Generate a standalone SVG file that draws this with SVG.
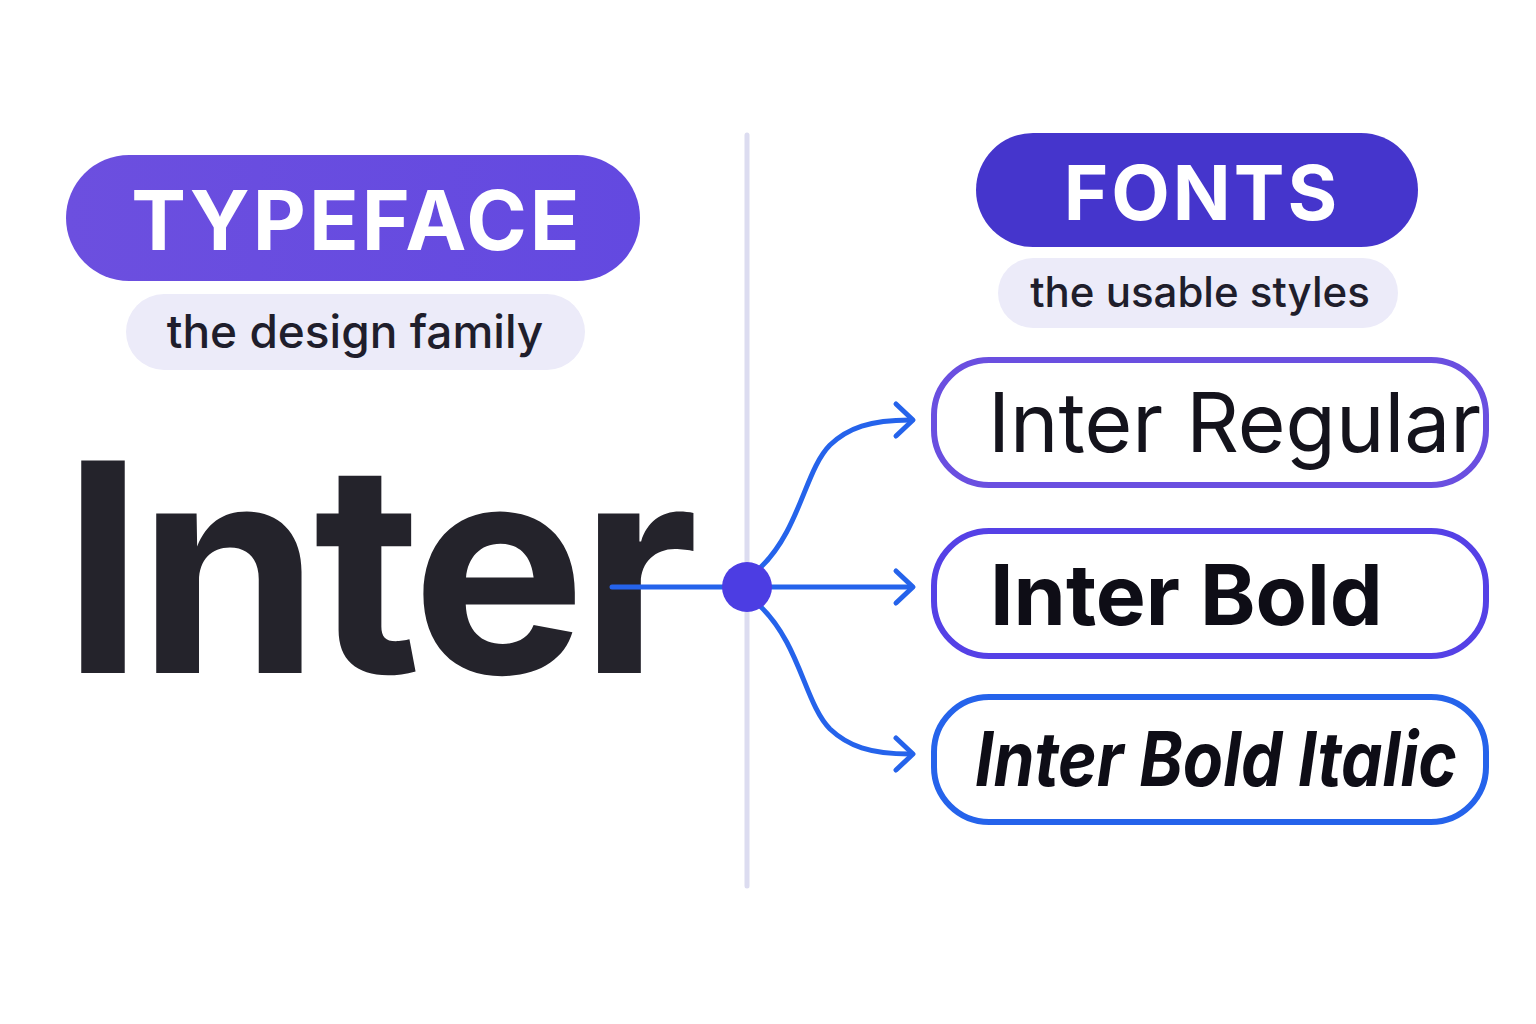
<svg xmlns="http://www.w3.org/2000/svg" width="1536" height="1024" viewBox="0 0 1536 1024">
<defs>
<style>
.t{font-family:Inter,"Liberation Sans",sans-serif}
.pillT{fill:#fff;font-weight:700;text-anchor:middle}
.sub{fill:#1f1e2c;font-weight:500;text-anchor:middle}
.box{fill:#fff;stroke-width:6}
.con{fill:none;stroke:#2563eb;stroke-width:5;stroke-linecap:round;stroke-linejoin:round}
</style>
<linearGradient id="g1" x1="0" x2="1"><stop offset="0" stop-color="#6c4fdf"/><stop offset="1" stop-color="#6349e0"/></linearGradient>
</defs>
<rect width="1536" height="1024" fill="#fff"/>
<line x1="747" y1="135" x2="747" y2="886" stroke="#dcdcf0" stroke-width="5" stroke-linecap="round"/>
<g id="typeface">
<rect x="66" y="155" width="574" height="126" rx="63" fill="url(#g1)"/>
<text class="t pillT" x="357" y="250" font-size="82" letter-spacing="3">TYPEFACE</text>
</g>
<g id="typeface-sub">
<rect x="126" y="294" width="459" height="76" rx="38" fill="#ecebf9"/>
<text class="t sub" x="355" y="348" font-size="46">the design family</text>
</g>
<g id="inter">
<text class="t" x="62" y="673" font-size="292" font-weight="700" fill="#24232b" letter-spacing="-6">Inter</text>
</g>
<g id="connectors">
<line class="con" x1="612" y1="587" x2="910" y2="587"/>
<path class="con" d="M760 568 C800 530 805 470 830 445 C848 428 870 420 910 420"/>
<path class="con" d="M760 606 C800 644 805 704 830 729 C848 746 870 754 910 754"/>
<path class="con" d="M896 404 L913 420 L896 436"/>
<path class="con" d="M896 571 L913 587 L896 603"/>
<path class="con" d="M896 738 L913 754 L896 770"/>
<circle cx="747" cy="587" r="25" fill="#4c3de3"/>
</g>
<g id="fonts">
<rect x="976" y="133" width="442" height="114" rx="57" fill="#4535cc"/>
<text class="t pillT" x="1202" y="220" font-size="76" letter-spacing="3">FONTS</text>
</g>
<g id="fonts-sub">
<rect x="998" y="258" width="400" height="70" rx="35" fill="#ecebf9"/>
<text class="t sub" x="1200" y="307" font-size="42">the usable styles</text>
</g>
<g id="regular">
<rect class="box" x="934" y="360" width="552" height="125" rx="55" stroke="#6a4fe0"/>
<text class="t" x="988" y="452" font-size="82" fill="#14131c">Inter Regular</text>
</g>
<g id="bold">
<rect class="box" x="934" y="531" width="552" height="125" rx="55" stroke="#5541e6"/>
<text class="t" x="990" y="625" font-size="84" font-weight="700" fill="#0e0d16">Inter Bold</text>
</g>
<g id="bolditalic">
<rect class="box" x="934" y="697" width="552" height="125" rx="55" stroke="#2563eb"/>
<text class="t" x="975" y="786" font-size="76" font-weight="700" font-style="italic" fill="#0e0d16" textLength="482" lengthAdjust="spacingAndGlyphs">Inter Bold Italic</text>
</g>
</svg>
